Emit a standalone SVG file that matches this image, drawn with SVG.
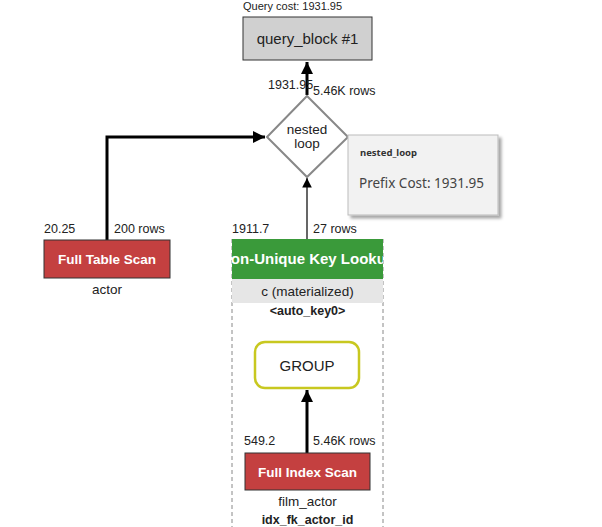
<svg xmlns="http://www.w3.org/2000/svg" width="602" height="527" viewBox="0 0 602 527">
<style>
text{font-family:"Liberation Sans",Arial,sans-serif;fill:#222}
.lbl{font-size:12.5px}
.nt{font-size:15px;text-anchor:middle}
.wt{font-size:13.5px;font-weight:bold;fill:#fff;text-anchor:middle}
.sub{font-size:13.5px;text-anchor:middle}
.bsub{font-size:12.5px;font-weight:bold;text-anchor:middle}
.thick{stroke:#000;stroke-width:3;fill:none}
.thin{stroke:#000;stroke-width:1.2;fill:none}
</style>
<defs>
<marker id="ah" viewBox="0 0 10 10" refX="10" refY="5" markerWidth="4" markerHeight="4" orient="auto" markerUnits="strokeWidth"><path d="M0,0 L10,5 L0,10 z" fill="#000"/></marker>
<marker id="ahs" viewBox="0 0 10 10" refX="10" refY="5" markerWidth="8" markerHeight="8" orient="auto" markerUnits="strokeWidth"><path d="M0,0 L10,5 L0,10 z" fill="#000"/></marker>
<clipPath id="gclip"><rect x="232" y="239" width="151" height="40"/></clipPath>
<filter id="sh" x="-10%" y="-10%" width="130%" height="130%"><feDropShadow dx="3" dy="3" stdDeviation="1.5" flood-color="#000" flood-opacity="0.35"/></filter>
</defs>
<rect width="602" height="527" fill="#fff"/>

<g id="connectors">
<line class="thick" x1="307" y1="95" x2="307" y2="62" marker-end="url(#ah)"/>
<polyline class="thick" points="107,240 107,137 265,137" marker-end="url(#ah)"/>
<line class="thin" x1="307" y1="239" x2="307" y2="178" marker-end="url(#ahs)"/>
<line class="thick" x1="307" y1="453" x2="307" y2="390" marker-end="url(#ah)"/>
<text class="lbl" x="268" y="89">1931.95</text>
<text class="lbl" x="313" y="95">5.46K rows</text>
<text class="lbl" x="44" y="233">20.25</text>
<text class="lbl" x="114" y="233">200 rows</text>
<text class="lbl" x="232" y="233">1911.7</text>
<text class="lbl" x="313" y="233">27 rows</text>
<text class="lbl" x="244" y="445">549.2</text>
<text class="lbl" x="313" y="445">5.46K rows</text>
</g>

<g id="query_block">
<text x="243" y="10" style="font-size:11px">Query cost: 1931.95</text>
<rect x="243" y="17" width="129" height="43" fill="#d0d0d0" stroke="#333" stroke-width="1"/>
<text class="nt" x="307.5" y="44">query_block #1</text>
</g>

<g id="nested_loop">
<polygon points="307,96 348,137 307,177 267,137" fill="#fff" stroke="#888" stroke-width="2"/>
<text class="sub" x="307" y="134">nested</text>
<text class="sub" x="307" y="148">loop</text>
</g>

<g id="tooltip">
<rect x="348" y="135" width="150" height="80" fill="#f2f2f2" stroke="#bbb" stroke-width="1" filter="url(#sh)"/>
<text x="360" y="156" style="font-family:'Noto Sans','DejaVu Sans',sans-serif;font-size:9.5px;font-weight:bold;fill:#333">nested_loop</text>
<text x="359" y="188" style="font-family:'Noto Sans','DejaVu Sans',sans-serif;font-size:13.5px;fill:#444">Prefix Cost: 1931.95</text>
</g>

<g id="full_table_scan">
<rect x="44" y="240" width="126" height="38" fill="#c44040" stroke="#333" stroke-width="1"/>
<text class="wt" x="107" y="264">Full Table Scan</text>
<text class="sub" x="107" y="294">actor</text>
</g>

<g id="materialized">
<line x1="232" y1="239" x2="232" y2="527" stroke="#888" stroke-dasharray="4,3"/>
<line x1="383" y1="239" x2="383" y2="527" stroke="#888" stroke-dasharray="4,3"/>
<rect x="232" y="239" width="151" height="40" fill="#3a9a3a"/>
<text class="wt" x="307.5" y="264" clip-path="url(#gclip)" style="font-size:15px">Non-Unique Key Lookup</text>
<rect x="232" y="279" width="151" height="24" fill="#e6e6e6"/>
<text class="sub" x="307.5" y="296">c (materialized)</text>
<text class="bsub" x="307.5" y="315">&lt;auto_key0&gt;</text>
</g>

<g id="group">
<rect x="255" y="342" width="104" height="46" rx="10" fill="#fff" stroke="#c8c820" stroke-width="2.5"/>
<text class="nt" x="307" y="371">GROUP</text>
</g>

<g id="full_index_scan">
<rect x="245" y="453" width="125" height="37" fill="#c44040" stroke="#333" stroke-width="1"/>
<text class="wt" x="307.5" y="477">Full Index Scan</text>
<text class="sub" x="307.5" y="506">film_actor</text>
<text class="bsub" x="307.5" y="524">idx_fk_actor_id</text>
</g>
</svg>
